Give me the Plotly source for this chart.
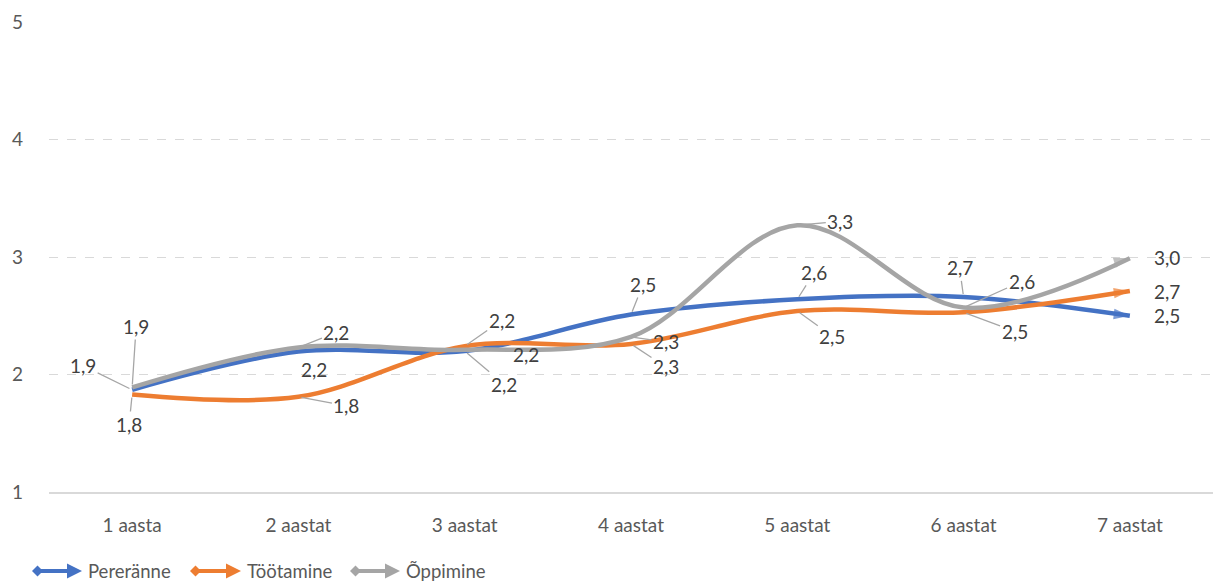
import plotly.graph_objects as go

# Survey scores by years since arrival
categories = ["1 aasta", "2 aastat", "3 aastat", "4 aastat", "5 aastat", "6 aastat", "7 aastat"]
pereranne = [1.87, 2.195, 2.20, 2.51, 2.64, 2.66, 2.50]
tootamine = [1.83, 1.81, 2.24, 2.26, 2.54, 2.53, 2.71]
oppimine = [1.89, 2.23, 2.21, 2.32, 3.27, 2.57, 2.99]
series_names = ["Pereränne", "Töötamine", "Õppimine"]
y_ticks = [1, 2, 3, 4, 5]

colors = ["#4472C4", "#ED7D31", "#A5A5A5"]
text_color = "#595959"
label_color = "#404040"
font_family = "Lato, 'Open Sans', sans-serif"

W, H = 1214, 584
M_L, M_R, M_T, M_B = 49, 1, 22, 92
PW, PH = W - M_L - M_R, H - M_T - M_B

# Label placement per point: (dx, dy) in pixels from the point, leader line on/off
label_layout = [
    [(-49, -24, True), (16, 18, False), (39, 33, True), (12, -30, True),
     (17, -27, True), (-4, -29, True), (37, 0, False)],
    [(-3, 30, True), (48, 9, True), (37, -26, True), (35, 23, True),
     (35, 25, True), (51, 19, True), (37, 0, False)],
    [(4, -61, True), (38, -15, True), (61, 5, False), (35, 5, True),
     (43, -4, True), (58, -26, True), (37, -1, False)],
]


def fmt(v):
    return f"{v:.1f}".replace(".", ",")


fig = go.Figure()
all_series = [pereranne, tootamine, oppimine]

for name, vals, col in zip(series_names, all_series, colors):
    n = len(vals)
    symbols = ["diamond"] + ["circle"] * (n - 2) + ["arrow"]
    sizes = [11] + [0] * (n - 2) + [17]
    fig.add_trace(go.Scatter(
        x=categories, y=vals, name=name, mode="lines+markers",
        line=dict(color=col, width=4.5, shape="spline", smoothing=1),
        marker=dict(symbol=symbols, size=sizes, color=col, angleref="previous",
                    line=dict(width=0)),
        showlegend=False, hoverinfo="skip",
    ))

annotations = []
for vals, layout in zip(all_series, label_layout):
    for cat, v, (dx, dy, leader) in zip(categories, vals, layout):
        common = dict(x=cat, y=v, xref="x", yref="y", text=fmt(v),
                      font=dict(family=font_family, size=19, color=label_color))
        if leader:
            annotations.append(dict(**common, showarrow=True, ax=dx, ay=dy,
                                    arrowhead=0, arrowwidth=1.3, arrowcolor="#A6A6A6",
                                    standoff=3, startstandoff=0))
        else:
            annotations.append(dict(**common, showarrow=False, xshift=dx, yshift=-dy))


def px(xp):
    return (xp - M_L) / PW


def py(yp):
    return (M_T + PH - yp) / PH


# Legend drawn beneath the axis: line with diamond start and arrow end
shapes = []
legend_items = [(32, 82, 86), (190, 241, 245), (350, 400, 404)]
ly = 571
for (x0, x1, tx), name, col in zip(legend_items, series_names, colors):
    shapes.append(dict(type="line", xref="paper", yref="paper",
                       x0=px(x0 + 4), x1=px(x1 - 8), y0=py(ly), y1=py(ly),
                       line=dict(color=col, width=4)))
    d = 5.5
    shapes.append(dict(type="path", xref="paper", yref="paper",
                       path=f"M{px(x0)},{py(ly)} L{px(x0 + d)},{py(ly - d)} "
                            f"L{px(x0 + 2 * d)},{py(ly)} L{px(x0 + d)},{py(ly + d)} Z",
                       fillcolor=col, line=dict(width=0)))
    shapes.append(dict(type="path", xref="paper", yref="paper",
                       path=f"M{px(x1)},{py(ly)} L{px(x1 - 15)},{py(ly - 7.5)} "
                            f"L{px(x1 - 15)},{py(ly + 7.5)} Z",
                       fillcolor=col, line=dict(width=0)))
    annotations.append(dict(x=px(tx), y=py(ly), xref="paper", yref="paper",
                            text=name, showarrow=False, xanchor="left", yanchor="middle",
                            font=dict(family=font_family, size=18.5, color=text_color)))

fig.update_layout(
    width=W, height=H,
    margin=dict(l=M_L, r=M_R, t=M_T, b=M_B),
    paper_bgcolor="white", plot_bgcolor="white",
    font=dict(family=font_family, color=text_color, size=19),
    xaxis=dict(type="category", range=[-0.5, 6.5], showgrid=False,
               showline=True, linecolor="#D9D9D9", linewidth=1.5,
               ticks="", ticklabelstandoff=15,
               tickfont=dict(size=19, color=text_color)),
    yaxis=dict(range=[1, 5], tickvals=y_ticks, ticktext=[str(t) for t in y_ticks],
               showgrid=True, gridcolor="#D9D9D9", griddash="dash", gridwidth=1,
               zeroline=False, showline=False, ticks="", ticklabelstandoff=25,
               tickfont=dict(size=19, color=text_color)),
    annotations=annotations,
    shapes=shapes,
    showlegend=False,
)

fig.write_html("out.html")
